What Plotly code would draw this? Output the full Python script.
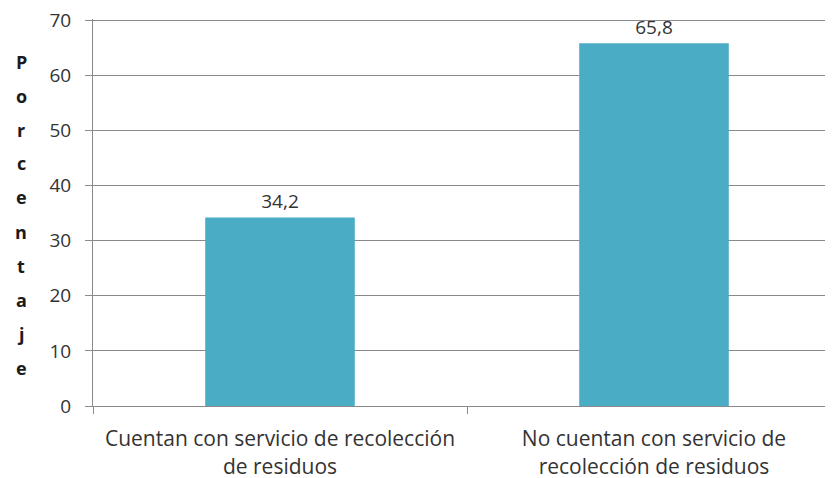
import plotly.graph_objects as go

categories = ["Cuentan con servicio de recolección<br>de residuos",
              "No cuentan con servicio de<br>recolección de residuos"]
values = [34.2, 65.8]
y_title = "Porcentaje"
y_ticks = [0, 10, 20, 30, 40, 50, 60, 70]

font = "'Open Sans', sans-serif"
grid = "#8a8a8a"
txt = "#333333"

fig = go.Figure(go.Bar(
    x=categories, y=values,
    marker=dict(color="#4bacc6", line=dict(width=0)),
    texttemplate="%{y:.1f}", textposition="outside",
    textfont=dict(family=font, size=19, color=txt),
    cliponaxis=False,
))

# page has an 8px body margin; figure sized so the plot meets the window edge
W, H = 825, 470
ml, mr, mt, mb = 85, 0, 11, 72
plot_w = W - ml - mr
full_w = 748  # width that two full categories would take
fig.update_layout(
    width=W, height=H,
    margin=dict(l=ml, r=mr, t=mt, b=mb, autoexpand=False),
    paper_bgcolor="white", plot_bgcolor="white",
    separators=",.",
    bargap=0.6,
    showlegend=False,
    font=dict(family=font, size=18, color=txt),
)
fig.update_yaxes(
    range=[0, 70.2], tickvals=y_ticks,
    showgrid=True, gridcolor=grid, gridwidth=1,
    showline=True, linecolor=grid, linewidth=1,
    ticks="outside", ticklen=7, tickcolor=grid,
    ticklabelstandoff=10, ticklabeloverflow="allow",
    tickfont=dict(family=font, size=19, color=txt),
    zeroline=False,
)
fig.update_xaxes(
    range=[-0.5, -0.5 + 2 * plot_w / full_w],
    showline=True, linecolor=grid, linewidth=1,
    tickson="boundaries", ticks="outside", ticklen=7, tickcolor=grid,
    ticklabelstandoff=14,
    tickfont=dict(family=font, size=21, color=txt),
)

# vertical stacked letters for the y-axis title
n = len(y_title)
plot_h = H - mt - mb
center = mt + plot_h / 2 + 2
step = 34
for i, ch in enumerate(y_title):
    ypix = center + (i - (n - 1) / 2) * step
    fig.add_annotation(
        text="<b>%s</b>" % ch, xref="paper", yref="paper",
        x=(13 - ml) / plot_w, y=1 - (ypix - mt) / plot_h,
        showarrow=False, xanchor="center", yanchor="middle",
        font=dict(family=font, size=18, color="#1a1a1a"),
    )

fig.write_html("out.html")
